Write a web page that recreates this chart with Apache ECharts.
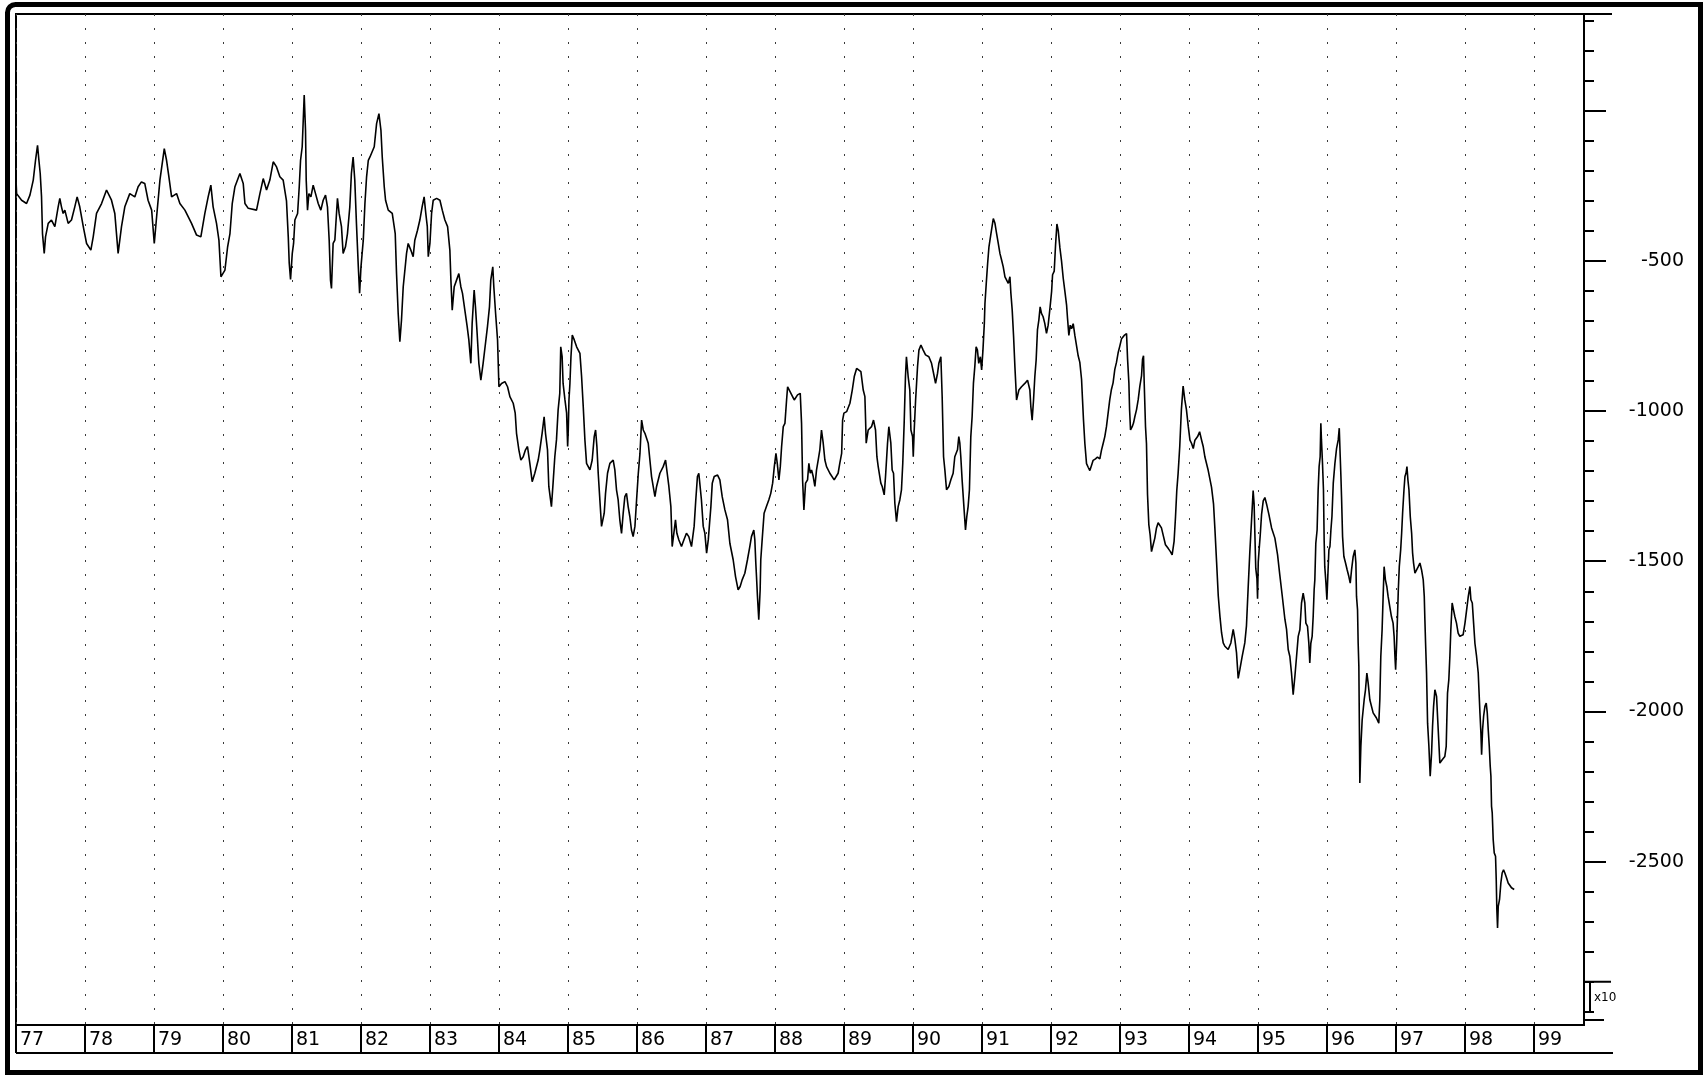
<!DOCTYPE html>
<html>
<head>
<meta charset="utf-8">
<script src="https://cdn.jsdelivr.net/npm/echarts@6.0.0/dist/echarts.min.js"></script>
<style>
html,body{margin:0;padding:0;background:#fff;}
#chart{width:1704px;height:1076px;}
</style>
</head>
<body>
<div id="chart"></div>
<script>
// ---- x-axis (two-digit years) and y-axis tick data ----
const xTickYears = [77,78,79,80,81,82,83,84,85,86,87,88,89,90,91,92,93,94,95,96,97,98,99];
const xTickLabels = ['77','78','79','80','81','82','83','84','85','86','87','88','89','90','91','92','93','94','95','96','97','98','99'];
const yMajorTicks = [0,-500,-1000,-1500,-2000,-2500];
const yLabelValues = [-500,-1000,-1500,-2000,-2500];
const yMinorTicks = [300,200,100,0,-100,-200,-300,-400,-500,-600,-700,-800,-900,-1000,-1100,-1200,-1300,-1400,-1500,-1600,-1700,-1800,-1900,-2000,-2100,-2200,-2300,-2400,-2500,-2600,-2700,-2800,-2900,-3000];
const unitLabel = 'x10';

// ---- series (date in decimal years, value) ----
const dates1977 = [77.000,77.009,77.081,77.153,77.202,77.250,77.283,77.312,77.332,77.351,
77.370,77.384,77.409,77.428,77.467,77.514,77.563,77.611,77.635,77.659,
77.683,77.708,77.756,77.804,77.852,77.886,77.924,77.975,78.023,78.085,
78.119,78.167,78.240,78.312,78.384,78.432,78.480,78.529,78.577,78.649,
78.722,78.770,78.818,78.866,78.914,78.966,79.004,79.038,79.086,79.149,
79.182,79.216,79.255,79.327,79.375,79.448,79.544,79.617,79.679,79.737,
79.785,79.824,79.857,79.906,79.941,79.970,80.028,80.067,80.101,80.134,
80.173,80.245,80.293,80.318,80.366,80.486,80.535,80.583,80.631,80.679,
80.728,80.776,80.824,80.872,80.920];
const values1977 = [-231,-276,-298,-309,-281,-231,-165,-115,-165,-209,
-287,-409,-475,-420,-375,-364,-386,-320,-292,-320,
-342,-331,-375,-364,-320,-287,-320,-386,-442,-464,
-420,-342,-309,-264,-298,-342,-475,-386,-320,-276,
-287,-253,-237,-242,-298,-331,-442,-353,-231,-126,
-165,-220,-287,-276,-309,-331,-375,-414,-420,-342,
-287,-248,-320,-375,-431,-553,-531,-453,-409,-309,
-253,-209,-242,-309,-325,-331,-276,-226,-264,-231,
-170,-187,-220,-231,-300];

const dates1981 = [80.946,80.960,80.979,81.004,81.023,81.042,81.081,81.105,81.124,81.148,
81.163,81.177,81.196,81.206,81.225,81.245,81.274,81.307,81.341,81.380,
81.418,81.452,81.486,81.514,81.539,81.558,81.572,81.596,81.621,81.645,
81.659,81.683,81.717,81.741,81.775,81.804,81.838,81.861,81.886,81.910,
81.934,81.961,81.980,82.000,82.033,82.057,82.081,82.106,82.130,82.154,
82.192,82.226,82.260,82.289,82.308,82.337,82.356,82.395,82.453,82.481,
82.496,82.515,82.539,82.563,82.587,82.612,82.636,82.660,82.684,82.722,
82.756,82.780,82.819,82.853,82.886,82.915,82.939,82.961,82.975,82.999,
83.023,83.047,83.096,83.144,83.178,83.216,83.255,83.288,83.303,83.322,
83.351,83.385,83.418,83.447,83.471,83.505,83.539,83.563,83.592,83.611,
83.640,83.659,83.683,83.708,83.737,83.770,83.804,83.833,83.862,83.881,
83.910,83.925,83.951,83.979,83.999,84.037,84.086,84.124,84.158,84.206,
84.235,84.254,84.288,84.317,84.351,84.384,84.413];
const values1981 = [-420,-508,-562,-475,-442,-364,-342,-253,-165,-120,
-32,52,-65,-231,-331,-276,-287,-248,-276,-309,
-331,-298,-281,-320,-431,-564,-592,-442,-431,-342,
-292,-342,-386,-475,-453,-409,-320,-209,-154,-231,
-375,-519,-608,-519,-431,-309,-220,-165,-154,-148,
-120,-43,-10,-65,-154,-253,-298,-331,-342,-342,
-409,-542,-675,-769,-697,-586,-531,-475,-442,-464,
-486,-431,-398,-364,-320,-287,-342,-386,-486,-442,
-342,-298,-292,-298,-331,-364,-386,-464,-564,-664,
-586,-564,-542,-586,-608,-664,-719,-763,-841,-708,
-597,-653,-741,-841,-897,-841,-775,-719,-653,-564,
-520,-586,-675,-763,-919,-908,-902,-919,-952,-974,
-1007,-1074,-1129,-1163,-1152,-1129,-1118];

const dates1984 = [84.447,84.481,84.519,84.568,84.592,84.625,84.654,84.674,84.703,84.722,
84.760,84.784,84.809,84.833,84.857,84.881,84.895,84.915,84.929,84.956,
84.980,84.995,85.004,85.014,85.028,85.043,85.062,85.091,85.125,85.173,
85.197,85.221,85.245,85.269,85.318,85.351,85.380,85.400,85.419,85.438,
85.462,85.486,85.525,85.544,85.573,85.607,85.655,85.679,85.703,85.727,
85.751,85.776,85.800,85.824,85.848,85.872,85.896,85.920,85.944,85.970,
85.994,86.019,86.043,86.067,86.091,86.115,86.163,86.187,86.211,86.260,
86.284,86.332,86.380,86.414,86.438,86.462,86.491,86.510,86.534,86.558,
86.578,86.607,86.645,86.679,86.717,86.751,86.790,86.828,86.852,86.876,
86.896,86.915,86.934,86.960,86.984,87.009,87.033,87.052,87.071,87.091,
87.119,87.168,87.201,87.235,87.274,87.312,87.346,87.394,87.428,87.466,
87.495,87.524,87.563,87.601,87.635,87.659,87.693,87.708,87.722,87.732,
87.746,87.765,87.785,87.794,87.814,87.842,87.876,87.910,87.939,87.966,
87.990,88.014,88.033,88.057,88.077,88.096,88.120,88.144,88.168,88.183];
const values1984 = [-1174,-1235,-1207,-1163,-1129,-1074,-1019,-1074,-1129,-1251,
-1318,-1240,-1152,-1096,-996,-941,-786,-819,-908,-963,
-1007,-1118,-1063,-963,-908,-819,-747,-763,-786,-808,
-885,-985,-1096,-1174,-1196,-1163,-1085,-1063,-1118,-1207,
-1296,-1384,-1340,-1274,-1207,-1174,-1163,-1196,-1262,-1296,
-1362,-1407,-1340,-1285,-1274,-1318,-1351,-1396,-1418,-1384,
-1296,-1207,-1141,-1030,-1063,-1074,-1107,-1163,-1218,-1285,
-1251,-1207,-1185,-1163,-1207,-1251,-1318,-1451,-1407,-1362,
-1407,-1429,-1451,-1429,-1407,-1418,-1451,-1384,-1296,-1218,
-1207,-1251,-1296,-1384,-1407,-1473,-1429,-1373,-1318,-1240,
-1218,-1213,-1229,-1285,-1329,-1362,-1440,-1495,-1551,-1595,
-1584,-1562,-1540,-1495,-1451,-1418,-1396,-1429,-1506,-1551,
-1617,-1695,-1595,-1495,-1429,-1340,-1318,-1296,-1274,-1240,
-1185,-1141,-1174,-1229,-1185,-1118,-1052,-1041,-963,-919];

const dates1988 = [88.231,88.279,88.327,88.366,88.385,88.400,88.419,88.443,88.472,88.491,
88.511,88.530,88.554,88.578,88.602,88.626,88.650,88.674,88.699,88.723,
88.747,88.795,88.858,88.915,88.939,88.966,88.980,88.999,89.038,89.086,
89.120,89.149,89.183,89.245,89.279,89.303,89.313,89.322,89.351,89.399,
89.428,89.457,89.477,89.496,89.534,89.554,89.583,89.602,89.631,89.650,
89.679,89.698,89.718,89.737,89.761,89.785,89.809,89.833,89.852,89.872,
89.891,89.905,89.930,89.954,89.970,89.994,90.004,90.018,90.038,90.052,
90.066,90.086,90.115,90.148,90.182,90.230,90.269,90.298,90.327,90.356,
90.375,90.404,90.423,90.443,90.462,90.486,90.520,90.549,90.582,90.606,
90.645,90.664,90.679,90.693,90.712,90.741,90.761,90.780,90.799,90.818,
90.838,90.857,90.876,90.896,90.915,90.934,90.953,90.976,90.995,91.014,
91.034,91.043,91.062,91.082,91.101,91.130,91.164,91.188,91.212,91.236,
91.260,91.284,91.308,91.333,91.357,91.381,91.405,91.419,91.438,91.458,
91.477,91.501,91.535,91.573,91.621,91.660,91.694,91.708,91.727,91.747,
91.766,91.785,91.804,91.824,91.843,91.862,91.886,91.910,91.935];
const values1988 = [-941,-963,-946,-941,-1041,-1229,-1329,-1240,-1229,-1174,
-1207,-1196,-1218,-1251,-1196,-1163,-1129,-1063,-1107,-1163,
-1185,-1207,-1229,-1207,-1174,-1141,-1030,-1007,-1002,-974,
-930,-885,-858,-869,-930,-952,-1030,-1107,-1063,-1052,
-1030,-1063,-1152,-1185,-1240,-1251,-1279,-1218,-1107,-1052,
-1107,-1196,-1207,-1307,-1368,-1318,-1296,-1262,-1174,-1041,
-885,-819,-885,-930,-1063,-1085,-1152,-1063,-963,-908,
-852,-797,-780,-797,-813,-819,-841,-874,-908,-874,
-841,-819,-952,-1152,-1196,-1262,-1251,-1229,-1207,-1152,
-1129,-1085,-1107,-1152,-1229,-1329,-1396,-1351,-1318,-1262,
-1085,-1019,-908,-852,-786,-797,-841,-819,-863,-797,
-708,-642,-575,-508,-453,-409,-359,-375,-409,-442,
-475,-497,-520,-553,-564,-575,-553,-608,-664,-752,
-852,-963,-930,-919,-908,-897,-930,-985,-1030,-963,
-885,-830,-730,-697,-653,-675,-686,-708,-741];

const dates1992 = [91.959,91.985,92.009,92.023,92.047,92.067,92.086,92.105,92.129,92.153,
92.177,92.202,92.226,92.240,92.259,92.279,92.298,92.322,92.346,92.370,
92.394,92.418,92.443,92.457,92.471,92.491,92.515,92.539,92.563,92.587,
92.611,92.645,92.674,92.708,92.732,92.756,92.780,92.804,92.828,92.852,
92.876,92.900,92.925,92.949,92.975,92.999,93.023,93.061,93.095,93.110,
93.129,93.139,93.153,93.177,93.196,93.216,93.240,93.264,93.288,93.312,
93.327,93.341,93.351,93.370,93.384,93.399,93.418,93.437,93.457,93.481,
93.505,93.529,93.553,93.577,93.601,93.625,93.659,93.698,93.731,93.756,
93.784,93.804,93.823,93.842,93.866,93.890,93.915,93.939,93.963,93.990,
94.014,94.038,94.062,94.086,94.125,94.154,94.183,94.207,94.231,94.279,
94.327,94.356,94.375,94.400,94.424,94.448,94.472,94.496,94.520,94.568,
94.607,94.641,94.665,94.689,94.713,94.737,94.771,94.809,94.833,94.857,
94.882,94.906,94.930,94.944,94.954,94.968,94.985,94.994,95.004,95.018,
95.033,95.052,95.076,95.100,95.125,95.158,95.197,95.245,95.284,95.317,
95.351,95.390,95.414,95.438,95.462,95.486];
const values1992 = [-714,-658,-602,-546,-534,-444,-377,-399,-456,-501,
-557,-602,-647,-692,-748,-714,-726,-709,-748,-782,
-816,-838,-894,-962,-1029,-1108,-1175,-1187,-1198,-1181,
-1164,-1159,-1153,-1159,-1130,-1108,-1085,-1052,-1007,-962,
-928,-906,-861,-838,-804,-782,-759,-748,-742,-827,
-906,-995,-1063,-1052,-1040,-1018,-995,-962,-917,-883,
-827,-816,-906,-1052,-1108,-1277,-1378,-1412,-1468,-1445,
-1423,-1389,-1372,-1367,-1389,-1412,-1445,-1457,-1468,-1479,
-1434,-1355,-1265,-1209,-1119,-995,-917,-962,-995,-1052,
-1097,-1108,-1125,-1097,-1085,-1069,-1097,-1119,-1153,-1198,
-1254,-1310,-1389,-1502,-1614,-1682,-1738,-1772,-1783,-1794,
-1772,-1727,-1760,-1805,-1890,-1861,-1817,-1772,-1715,-1592,
-1468,-1367,-1265,-1310,-1400,-1524,-1558,-1625,-1502,-1457,
-1412,-1344,-1299,-1288,-1310,-1344,-1389,-1423,-1479,-1547,
-1614,-1693,-1727,-1794,-1817,-1873];

const dates1995 = [95.510,95.535,95.559,95.583,95.607,95.631,95.655,95.679,95.694,95.718,
95.737,95.751,95.766,95.785,95.800,95.814,95.824,95.838,95.857,95.872,
95.886,95.901,95.911,95.920,95.935,95.949,95.959,95.968,95.985,95.999,
96.014,96.028,96.043,96.057,96.072,96.091,96.115,96.139,96.163,96.178,
96.192,96.202,96.211,96.226,96.245,96.269,96.293,96.317,96.337,96.356,
96.380,96.404,96.419,96.428,96.443,96.452,96.462,96.472,96.476,96.491,
96.510,96.539,96.558,96.578,96.597,96.621,96.669,96.717,96.751,96.766,
96.780,96.799,96.814,96.828,96.847,96.867,96.886,96.910,96.934,96.958,
96.973,96.985,96.995,97.010,97.019,97.034,97.048,97.068,97.082,97.096,
97.116,97.130,97.145,97.159,97.173,97.188,97.207,97.227,97.241,97.255,
97.275,97.299,97.323,97.347,97.371,97.395,97.410,97.419,97.429,97.443,
97.458,97.477,97.496,97.516,97.530,97.545,97.564,97.588,97.612,97.636,
97.670,97.708,97.728,97.737,97.747,97.766,97.781,97.795,97.814,97.834,
97.853,97.877,97.901,97.925,97.949,97.973,98.000,98.024,98.048,98.072,
98.086,98.106,98.125,98.144,98.168,98.192,98.217,98.231,98.241,98.255,
98.270,98.289,98.308,98.323,98.337,98.352,98.366,98.376,98.385,98.395,
98.409,98.424,98.443,98.453,98.462,98.472,98.482,98.501,98.520,98.539,
98.559,98.578,98.602,98.626,98.650,98.674,98.713];
const values1995 = [-1944,-1883,-1817,-1750,-1728,-1639,-1606,-1639,-1706,-1717,
-1773,-1839,-1773,-1750,-1684,-1595,-1562,-1440,-1396,-1262,
-1185,-1152,-1041,-1096,-1174,-1262,-1429,-1518,-1573,-1628,
-1540,-1462,-1451,-1396,-1351,-1240,-1174,-1124,-1096,-1057,
-1152,-1218,-1285,-1418,-1484,-1506,-1529,-1551,-1573,-1529,
-1484,-1462,-1506,-1617,-1662,-1773,-1850,-2116,-2238,-2116,
-2028,-1961,-1928,-1872,-1906,-1961,-2005,-2022,-2039,-1961,
-1817,-1728,-1617,-1518,-1562,-1584,-1617,-1651,-1684,-1706,
-1750,-1817,-1861,-1773,-1706,-1595,-1518,-1462,-1407,-1340,
-1262,-1218,-1207,-1185,-1229,-1262,-1351,-1407,-1473,-1506,
-1540,-1529,-1518,-1506,-1529,-1562,-1617,-1695,-1773,-1872,
-2039,-2116,-2216,-2138,-2050,-1983,-1928,-1950,-2061,-2172,
-2161,-2150,-2116,-2028,-1939,-1894,-1817,-1728,-1639,-1662,
-1684,-1706,-1739,-1750,-1745,-1745,-1706,-1662,-1617,-1584,
-1628,-1639,-1706,-1773,-1817,-1872,-2005,-2072,-2144,-2061,
-2016,-1983,-1972,-2005,-2061,-2116,-2183,-2216,-2316,-2338,
-2427,-2471,-2482,-2560,-2660,-2721,-2649,-2626,-2571,-2538,
-2527,-2538,-2554,-2571,-2576,-2587,-2593];

const segments = [
  [dates1977, values1977], [dates1981, values1981], [dates1984, values1984],
  [dates1988, values1988], [dates1992, values1992], [dates1995, values1995]
];
const seriesData = [];
segments.forEach(function (s, k) {
  if (s[0].length !== s[1].length) {
    throw new Error('segment ' + k + ' length mismatch ' + s[0].length + ' vs ' + s[1].length);
  }
  for (let i = 0; i < s[0].length; i++) seriesData.push([s[0][i], s[1][i]]);
});

// ---- layout (pixels) ----
const L = { left: 16, right: 1584, top: 14, bottom: 1025, bandBottom: 1053 };
const FONT = 'DejaVu Sans';

const chart = echarts.init(document.getElementById('chart'), null, { renderer: 'canvas', width: 1704, height: 1076 });

const option = {
  animation: false,
  backgroundColor: '#ffffff',
  grid: {
    left: L.left, top: L.top, width: L.right - L.left, height: L.bottom - L.top,
    show: true, borderColor: '#000', borderWidth: 2, backgroundColor: 'transparent',
    containLabel: false, outerBoundsMode: 'none'
  },
  xAxis: {
    type: 'value', min: 77, max: 99.725, interval: 1, position: 'bottom',
    axisLine: { show: true, onZero: false, lineStyle: { color: '#000', width: 2 } },
    axisTick: { show: true, inside: false, length: L.bandBottom - L.bottom, customValues: xTickYears,
      lineStyle: { color: '#000', width: 2 } },
    axisLabel: {
      show: true, customValues: xTickYears,
      formatter: function (v) { const i = xTickYears.indexOf(Math.round(v)); return i >= 0 ? xTickLabels[i] : ''; },
      align: 'left', verticalAlign: 'middle', margin: 15, padding: [0, 0, 0, 4],
      color: '#000', fontSize: 19, fontFamily: FONT
    },
    splitLine: { show: true, lineStyle: { color: '#3a3a3a', width: 1, type: [2, 12] } }
  },
  yAxis: [
    {
      type: 'value', position: 'right', min: -3044, max: 322,
      axisLine: { show: true, onZero: false, lineStyle: { color: '#000', width: 2 } },
      axisTick: { show: true, inside: false, length: 22, customValues: yMajorTicks, lineStyle: { color: '#000', width: 2 } },
      axisLabel: {
        show: true, customValues: yLabelValues,
        formatter: function (v) { return String(v); },
        align: 'right', verticalAlign: 'middle', margin: 100,
        color: '#000', fontSize: 19, fontFamily: FONT
      },
      splitLine: { show: false }
    },
    {
      type: 'value', position: 'right', min: -3044, max: 322, offset: 0,
      axisLine: { show: false, onZero: false },
      axisTick: { show: true, inside: false, length: 10, customValues: yMinorTicks, lineStyle: { color: '#000', width: 2 } },
      axisLabel: { show: false },
      splitLine: { show: false }
    }
  ],
  series: [{
    type: 'line', data: seriesData, xAxisIndex: 0, yAxisIndex: 0,
    showSymbol: false, symbol: 'none', clip: true, silent: true,
    lineStyle: { color: '#000', width: 1.6 }
  }]
};
chart.setOption(option);

// ---- frame decorations and unit bracket ----
const y2900 = chart.convertToPixel({ yAxisIndex: 0 }, -2900);
const y3000 = chart.convertToPixel({ yAxisIndex: 0 }, -3000);
chart.setOption({
  graphic: [
    { type: 'rect', silent: true, z: 100,
      shape: { x: 7.5, y: 4.5, width: 1693, height: 1068, r: [8, 0, 0, 0] },
      style: { fill: 'none', stroke: '#000', lineWidth: 5 } },
    { type: 'line', silent: true, z: 100,
      shape: { x1: L.right, y1: L.top, x2: 1612, y2: L.top },
      style: { stroke: '#000', lineWidth: 2 } },
    { type: 'line', silent: true, z: 100,
      shape: { x1: L.left, y1: L.bandBottom, x2: 1613, y2: L.bandBottom },
      style: { stroke: '#000', lineWidth: 2 } },
    { type: 'line', silent: true, z: 100,
      shape: { x1: L.left, y1: L.bottom, x2: L.left, y2: L.bandBottom },
      style: { stroke: '#000', lineWidth: 2 } },
    { type: 'line', silent: true, z: 100,
      shape: { x1: L.right, y1: y2900, x2: 1611, y2: y2900 },
      style: { stroke: '#000', lineWidth: 2 } },
    { type: 'line', silent: true, z: 100,
      shape: { x1: 1590, y1: y2900, x2: 1590, y2: y3000 },
      style: { stroke: '#000', lineWidth: 2 } },
    { type: 'line', silent: true, z: 100,
      shape: { x1: L.right, y1: L.bottom - 5, x2: 1604, y2: L.bottom - 5 },
      style: { stroke: '#000', lineWidth: 2 } },
    { type: 'text', silent: true, z: 100,
      style: { x: 1594, y: (y2900 + y3000) / 2 + 1, text: unitLabel, fill: '#000',
        font: '12px "DejaVu Sans"', verticalAlign: 'middle', align: 'left' } }
  ]
});
</script>
</body>
</html>
